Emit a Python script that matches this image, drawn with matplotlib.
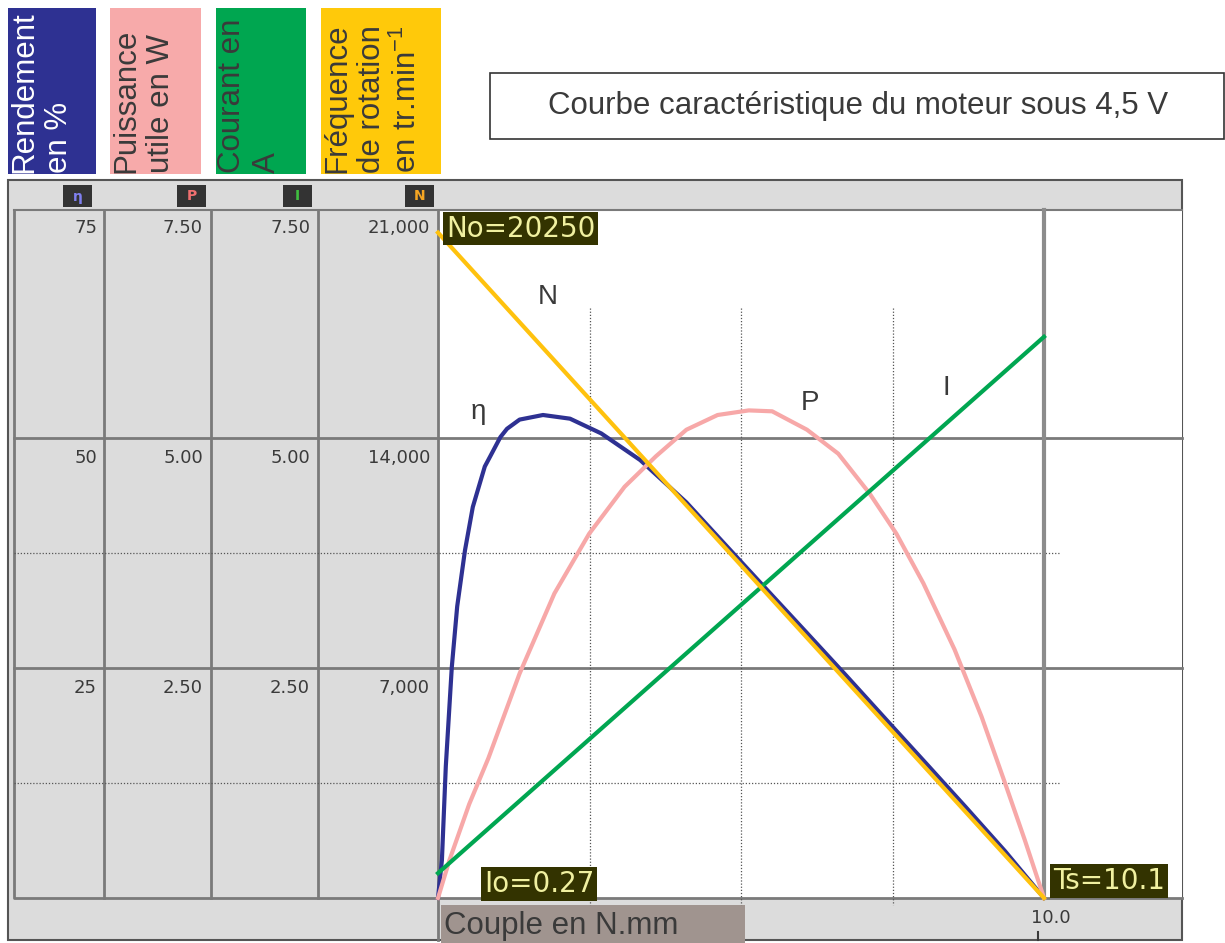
import matplotlib
matplotlib.use("Agg")
import matplotlib.pyplot as plt
from matplotlib.patches import Rectangle
from matplotlib import transforms

# couple (N.mm) / rendement (%)
couple_eta = [0, 0.065, 0.13, 0.23, 0.32, 0.45, 0.58, 0.78, 0.87, 1.04, 1.15, 1.36, 1.75,
              2.20, 2.72, 3.37, 4.14, 4.86, 5.44, 6.15, 6.80, 7.51, 8.16, 8.80, 9.45, 10.1]
rendement = [0, 4.1, 14.3, 25.1, 31.7, 37.8, 42.5, 46.9, 48.0, 50.1, 51.0, 52.0, 52.5,
             52.1, 50.5, 47.6, 43.0, 37.9, 33.8, 28.8, 24.2, 19.1, 14.45, 9.85, 5.1, 0]

# couple (N.mm) / puissance utile (W)
couple_p = [0, 0.19, 0.52, 0.84, 1.36, 1.94, 2.52, 3.11, 3.63, 4.14, 4.66, 5.18, 5.57,
            6.15, 6.67, 7.19, 7.64, 8.09, 8.61, 9.06, 9.45, 9.78, 10.1]
puissance = [0, 0.41, 1.02, 1.52, 2.44, 3.31, 3.96, 4.47, 4.80, 5.09, 5.25, 5.30, 5.29,
             5.09, 4.83, 4.40, 3.96, 3.42, 2.70, 1.97, 1.25, 0.63, 0]

# straight lines: courant (A) and frequence (tr/min)
couple_lin = [0, 10.1]
courant = [0.27, 6.1]
frequence = [20250, 0]

eta_ticks = [25, 50, 75]
p_ticks = [2.5, 5.0, 7.5]
i_ticks = [2.5, 5.0, 7.5]
n_ticks = [7000, 14000, 21000]
x_grid = [2.525, 5.05, 7.575]
Ts = 10.1

BLUE = "#2E3192"
PINK = "#F7A8A8"
GREEN = "#00A651"
YELLOW = "#FFC20E"
GRAY = "#DCDCDC"
LINE = "#7a7a7a"
TXT = "#3a3a3a"

W, H = 1225, 943
fig = plt.figure(figsize=(W / 100, H / 100), dpi=100)

# background canvas in pixel coords
bg = fig.add_axes([0, 0, 1, 1])
bg.axis("off")

# data axes (eta in %), twins for P/I and N
ax = fig.add_axes([438 / W, 1 - 898 / H, (1182 - 438) / W, (898 - 210) / H])
ax.set_facecolor("none")
ax.set_xlim(0, Ts * (1182 - 438) / 606)
ax.set_ylim(0, 75 * 688 / 690)
ax_p = ax.twinx()
ax_p.set_ylim(0, 7.5 * 688 / 690)
ax_n = ax.twinx()
ax_n.set_ylim(0, 21000 * 688 / 690)
for a in (ax, ax_p, ax_n):
    a.axis("off")

# coloured headers
heads = [
    (8, 96, BLUE, "white", "Rendement\nen %"),
    (110, 201, "#F7AAAA", TXT, "Puissance\nutile en W"),
    (216, 306, "#00A650", TXT, "Courant en\nA"),
    (321, 441, "#FFC90A", TXT, "Fréquence\nde rotation\nen tr.min$^{\\mathregular{-1}}$"),
]
for x0, x1, fc, tc, label in heads:
    box = Rectangle((x0, 8), x1 - x0, 166, fc=fc, ec="none")
    bg.add_patch(box)
    t = bg.text(x0 + 1, 173, label, rotation=90, rotation_mode="anchor", ha="left", va="top",
                color=tc, fontsize=22.5, family="Liberation Sans", linespacing=1.2)
    t.set_clip_path(box)

# title box
bg.add_patch(Rectangle((490, 73), 734, 66, fc="white", ec="#333333", lw=1.2))
bg.text(858, 106, "Courbe caractéristique du moteur sous 4,5 V", ha="center", va="center",
        fontsize=22.5, family="Liberation Sans", color=TXT)

# main frame
bg.add_patch(Rectangle((8, 180), 1174, 760, fc=GRAY, ec="#555555", lw=1.5))
bg.add_patch(Rectangle((438, 210), 744, 688, fc="white", ec="none"))
bg.plot([14, 1182], [210, 210], color=LINE, lw=1.5)
bg.plot([14, 14, 438], [210, 898, 898], color=LINE, lw=2)
bg.plot([438, 1182], [898, 898], color=LINE, lw=2)
for xc in [104, 211, 318]:
    bg.plot([xc, xc], [210, 898], color=LINE, lw=2)
bg.plot([438, 438], [210, 940], color=LINE, lw=2)

# small series markers in top strip
marks = [(63, "η", "#8080F0"), (177, "P", "#F07070"), (283, "I", "#40C040"), (405, "N", "#F5A623")]
for xm, sym, col in marks:
    bg.add_patch(Rectangle((xm, 185), 29, 22, fc="#333333", ec="none"))
    bg.text(xm + 14.5, 196.5, sym, ha="center", va="center", color=col, fontsize=10,
            fontweight="bold")

# horizontal grid across table and plot
ty = transforms.blended_transform_factory(bg.transData, ax.transData)
for v in eta_ticks[:-1]:
    bg.plot([14, 1182], [v, v], color=LINE, lw=2, transform=ty)
for v in [12.5, 37.5]:
    bg.plot([14, 1060], [v, v], color="#555555", lw=0.9, ls=(0, (1, 1.5)), transform=ty)

# vertical grid
tx = transforms.blended_transform_factory(ax.transData, bg.transData)
for xg in x_grid:
    bg.plot([xg, xg], [308, 905], color="#555555", lw=0.9, ls=(0, (1, 1.5)), transform=tx)
bg.plot([Ts, Ts], [210, 898], color="#8c8c8c", lw=3, transform=tx)

# table values
cols = [(97, eta_ticks, "{:.0f}"), (203, p_ticks, "{:.2f}"), (310, i_ticks, "{:.2f}"),
        (430, n_ticks, "{:,.0f}")]
for xr, ticks, fmt in cols:
    for k, v in enumerate(ticks):
        bg.annotate(fmt.format(v), xy=(xr, eta_ticks[k]), xycoords=ty, xytext=(0, -11),
                    textcoords="offset pixels", ha="right", va="top", fontsize=13, color=TXT)

# curves
ax_p.plot(couple_p, puissance, color=PINK, lw=3, clip_on=False, zorder=2)
ax.plot(couple_eta, rendement, color=BLUE, lw=3, clip_on=False, zorder=3)
ax_n.plot(couple_lin, frequence, color=YELLOW, lw=3, clip_on=False, zorder=3)
ax_p.plot(couple_lin, courant, color=GREEN, lw=3, clip_on=False, zorder=4)

# curve names
lab = dict(fontsize=20, color=TXT, family="Liberation Sans", ha="center", va="center")
ax.text(0.67, 52.8, "η", **lab)
ax_n.text(1.83, 18300, "N", **lab)
ax_p.text(6.2, 5.38, "P", **lab)
ax_p.text(8.48, 5.54, "I", **lab)

# value tags
tag = dict(textcoords="offset pixels", ha="left", va="center", fontsize=20, color="#F0F0A0",
           bbox=dict(boxstyle="square,pad=0.1", fc="#333300", ec="none"), zorder=6)
ax_n.annotate("No=20250", xy=(0, frequence[0]), xytext=(8, 4), annotation_clip=False, **tag)
ax_p.annotate("Io=0.27", xy=(0, courant[0]), xytext=(46, -11), annotation_clip=False, **tag)
ax.annotate("Ts=10.1", xy=(Ts, 0), xytext=(9, 17), annotation_clip=False, **tag)

# x axis label and tick
bg.add_patch(Rectangle((441, 905), 304, 38, fc="#A0948F", ec="none"))
bg.text(444, 926, "Couple en N.mm", ha="left", va="center", fontsize=22.5,
        family="Liberation Sans", color=TXT)
bg.plot([10.0, 10.0], [932, 940], color=TXT, lw=1.5, transform=tx)
bg.annotate("10.0", xy=(10.0, 918), xycoords=tx, xytext=(-7, 0), textcoords="offset pixels",
            ha="left", va="center", fontsize=13, color=TXT)

bg.set_xlim(0, W)
bg.set_ylim(H, 0)

fig.savefig("out.png", dpi=100, facecolor="white")
